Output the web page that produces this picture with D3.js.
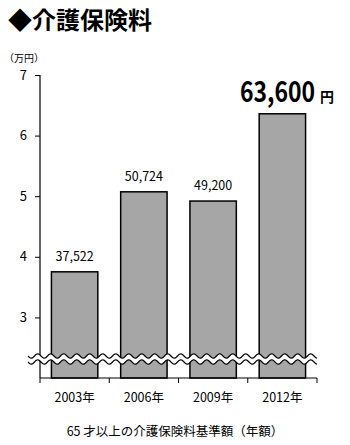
<!DOCTYPE html>
<html lang="ja">
  <head>
    <script src="https://d3js.org/d3.v7.min.js"></script>
    <style>
      body { margin: 0; background: #fff; }
      text { font-family: "Noto Sans CJK JP", "Open Sans", sans-serif; }
    </style>
  </head>
  <body>
    <svg width="350" height="445"></svg>
    <script>
      var years = ["2003年", "2006年", "2009年", "2012年"];
      var values = [37522, 50724, 49200, 63600];
      var labels = ["37,522", "50,724", "49,200", "63,600"];
      var yTicks = [3, 4, 5, 6, 7];

      var svg = d3.select("svg");
      var mLeft = 40, mRight = 317, mTop = 75, mBottom = 378;

      // title
      svg.append("text")
        .attr("x", 8).attr("y", 29)
        .attr("font-size", "24px").attr("font-weight", "bold")
        .text("◆介護保険料");

      svg.append("text")
        .attr("x", 4).attr("y", 62)
        .attr("font-size", "10px")
        .text("（万円）");

      var x = d3.scaleBand().domain(years).range([mLeft, mRight]).paddingInner(0.33).paddingOuter(0.165);
      var y = d3.scaleLinear().domain([2, 7]).range([mBottom, mTop]);

      // bars
      svg.selectAll(".bar")
        .data(values)
        .enter()
        .append("rect")
        .attr("x", function (d, i) { return x(years[i]); })
        .attr("y", function (d) { return y(d / 10000); })
        .attr("width", x.bandwidth())
        .attr("height", function (d) { return mBottom - y(d / 10000); })
        .attr("fill", "#a6a6a6")
        .attr("stroke", "#000")
        .attr("stroke-width", 1.5);

      // y axis
      var ya = svg.append("g")
        .attr("transform", "translate(" + mLeft + ",0)")
        .call(d3.axisLeft(y).tickValues(yTicks).tickFormat(d3.format("d")).tickSize(5).tickPadding(8));
      ya.select(".domain").attr("d", "M0," + mTop + "V" + mBottom).attr("stroke-width", 1.2);
      ya.selectAll("text").attr("font-size", "13px").attr("font-family", "Open Sans, sans-serif");

      // x axis with ticks at band edges
      var xa = svg.append("g").attr("transform", "translate(0," + mBottom + ")");
      xa.append("line").attr("x1", mLeft).attr("x2", mRight).attr("stroke", "#000").attr("stroke-width", 1.2);
      d3.range(years.length + 1).forEach(function (i) {
        var xx = mLeft + i * (mRight - mLeft) / years.length;
        xa.append("line").attr("x1", xx).attr("x2", xx).attr("y1", 0).attr("y2", 5).attr("stroke", "#000");
      });
      xa.selectAll(".xl")
        .data(years)
        .enter()
        .append("text")
        .attr("x", function (d) { return x(d) + x.bandwidth() / 2; })
        .attr("y", 24)
        .attr("text-anchor", "middle")
        .attr("font-size", "12.5px")
        .text(function (d) { return d; });

      // value labels
      svg.selectAll(".vl")
        .data(values.slice(0, 3))
        .enter()
        .append("text")
        .attr("x", function (d, i) { return x(years[i]) + x.bandwidth() / 2; })
        .attr("y", function (d) { return y(d / 10000) - 11; })
        .attr("text-anchor", "middle")
        .attr("font-size", "12.5px")
        .attr("font-family", "Open Sans, sans-serif")
        .text(function (d, i) { return labels[i]; });

      // big highlighted value, squeezed horizontally
      svg.append("text")
        .attr("transform", "translate(240,102) scale(0.82,1)")
        .attr("font-weight", "bold")
        .attr("font-size", "28px")
        .attr("font-family", "'DejaVu Sans Condensed', 'Open Sans', sans-serif")
        .text(labels[3]);
      svg.append("text")
        .attr("x", 320).attr("y", 102)
        .attr("font-weight", "bold")
        .attr("font-size", "14px")
        .text("円");

      // wavy break
      var wy = 359, amp = 2.2, period = 13;
      var pts = d3.range(28, mRight + 1, 1).map(function (xx) {
        return [xx, Math.sin((xx - 28) / period * 2 * Math.PI) * amp];
      });
      var line = d3.line().curve(d3.curveBasis);
      var upper = pts.map(function (p) { return [p[0], wy - 3 + p[1]]; });
      var lower = pts.map(function (p) { return [p[0], wy + 3 + p[1]]; });
      svg.append("path")
        .attr("d", line(upper.concat(lower.slice().reverse())) + "Z")
        .attr("fill", "#fff");
      svg.append("path").attr("d", line(upper)).attr("fill", "none").attr("stroke", "#000").attr("stroke-width", 1.2);
      svg.append("path").attr("d", line(lower)).attr("fill", "none").attr("stroke", "#000").attr("stroke-width", 1.2);

      // caption
      svg.append("text")
        .attr("x", 175).attr("y", 436)
        .attr("text-anchor", "middle")
        .attr("font-size", "12.5px")
        .text("65 才以上の介護保険料基準額（年額）");
    </script>
  </body>
</html>
